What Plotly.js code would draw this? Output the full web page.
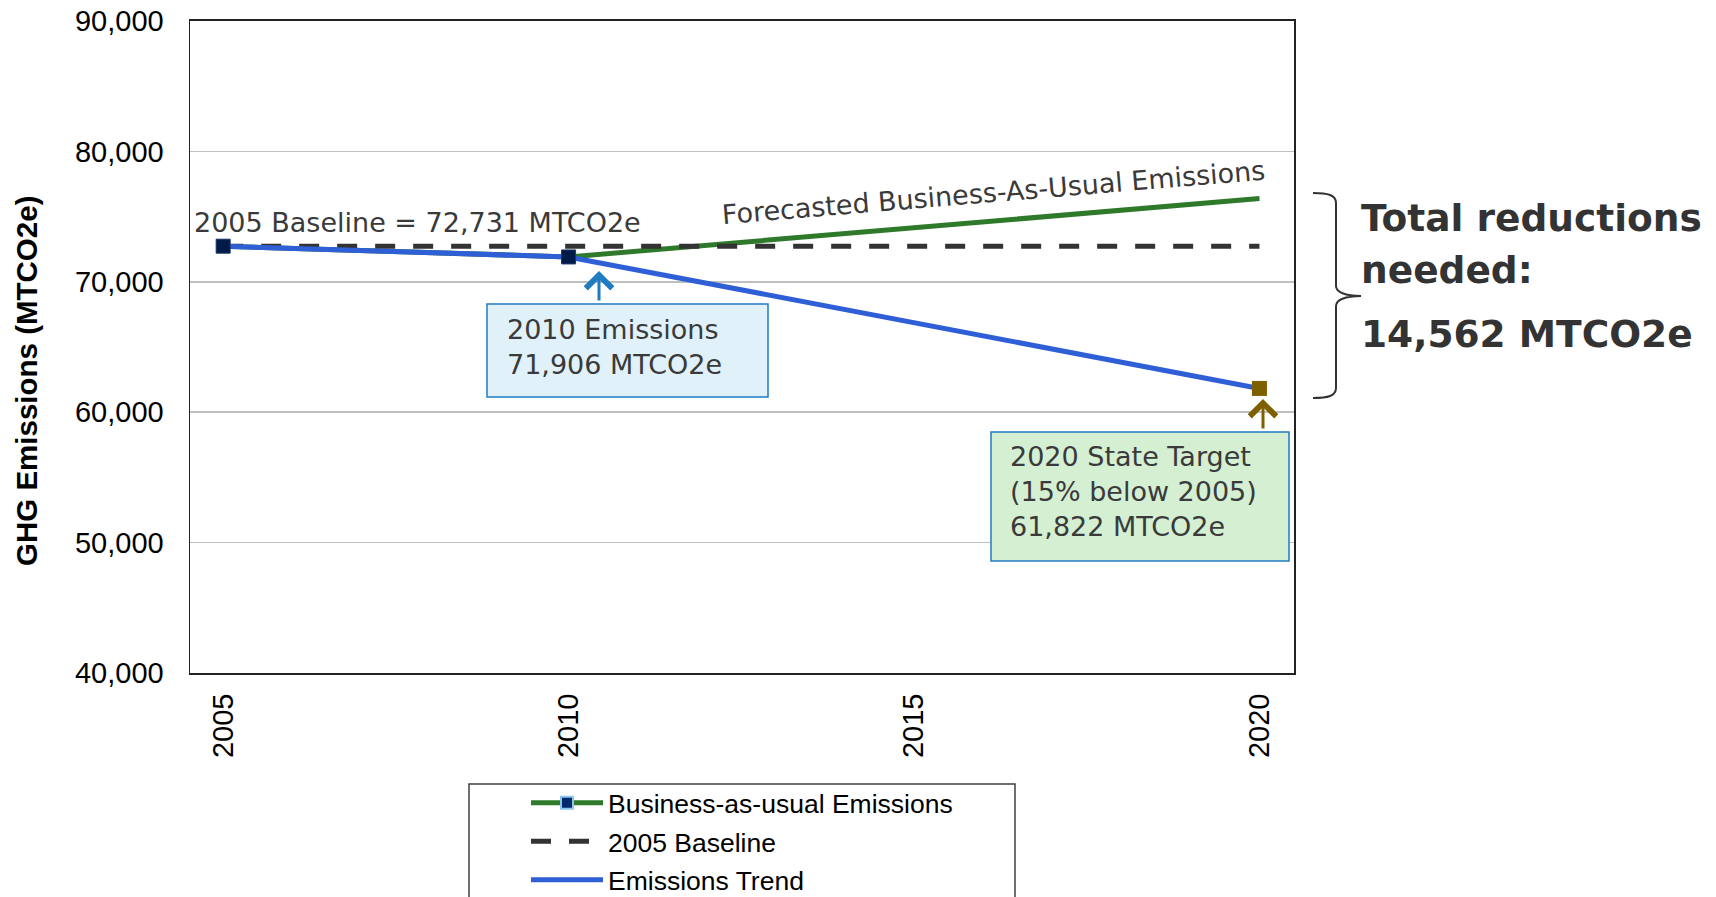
<!DOCTYPE html>
<html><head><meta charset="utf-8">
<script src="https://cdn.plot.ly/plotly-3.0.1.min.js"></script>
<style>html,body{margin:0;padding:0;background:#fff}#chart{width:1716px;height:897px}</style>
</head><body><div id="chart"></div>
<script>
// ---- data ----
const years = [2005, 2010, 2020];
const bauEmissions = [72731, 71906, 76384];
const trendEmissions = [72731, 71906, 61822];
const baselineYears = [2005, 2020];
const baselineValues = [72731, 72731];
const markerYears = [2005, 2010];
const markerValues = [72731, 71906];
const targetYears = [2020];
const targetValues = [61822];
const xTickVals = [2005, 2010, 2015, 2020];
const yTickVals = [40000, 50000, 60000, 70000, 80000, 90000];
const seriesNames = ['Business-as-usual Emissions', '2005 Baseline', 'Emissions Trend'];
const yAxisTitle = 'GHG Emissions (MTCO2e)';

// ---- pixel -> paper helpers (layout) ----
const W = 1716, H = 897, L = 190, R = 1294, T = 21, B = 673;
const px = x => (x - L) / (R - L);
const py = y => (B - y) / (B - T);
function pathFrom(cmds) {
  return cmds.map(c => c[0] + c.slice(1).map((v, i) => (i % 2 === 0 ? px(v) : py(v)).toFixed(5)).join(',')).join(' ');
}

const sans = 'Liberation Sans, Arial, sans-serif';
const verd = 'DejaVu Sans, Verdana, sans-serif';
const txt = '#3a3a3a';

const traces = [
  { x: years, y: bauEmissions, name: seriesNames[0], mode: 'lines+markers', legendgroup: 'a',
    line: { color: '#2e7a2a', width: 5 },
    marker: { symbol: 'square', size: 12,
      color: ['#002a6a', '#002a6a', 'rgba(0,0,0,0)'],
      line: { color: ['#8cc6ee', '#8cc6ee', 'rgba(0,0,0,0)'], width: 2 } } },
  { x: baselineYears, y: baselineValues, name: seriesNames[1], mode: 'lines', legendgroup: 'b',
    line: { color: '#333333', width: 5, dash: '20px,18px' } },
  { x: years, y: trendEmissions, name: seriesNames[2], mode: 'lines', legendgroup: 'c',
    line: { color: '#2f5fd6', width: 5 } },
  { x: markerYears, y: markerValues, mode: 'markers', showlegend: false, hoverinfo: 'skip',
    marker: { symbol: 'square', size: 14, color: '#001b48', line: { color: '#22386a', width: 1 } } },
  { x: targetYears, y: targetValues, mode: 'markers', showlegend: false,
    marker: { symbol: 'square', size: 15, color: '#7f6000' } }
];

const shapes = [
  { type: 'rect', xref: 'paper', yref: 'paper', x0: px(487), x1: px(768), y0: py(397), y1: py(304),
    fillcolor: '#e0f1fa', line: { color: '#1f7bc2', width: 1.5 }, layer: 'above' },
  { type: 'rect', xref: 'paper', yref: 'paper', x0: px(991), x1: px(1289), y0: py(561), y1: py(432),
    fillcolor: '#d5efd3', line: { color: '#1f7bc2', width: 1.5 }, layer: 'above' },
  { type: 'rect', xref: 'paper', yref: 'paper', x0: px(469), x1: px(1015), y0: py(905), y1: py(784),
    fillcolor: 'rgba(0,0,0,0)', line: { color: '#404040', width: 1.5 }, layer: 'above' },
  { type: 'path', xref: 'paper', yref: 'paper', layer: 'above', line: { color: '#333333', width: 2 },
    path: pathFrom([
      ['M', 1313, 193], ['C', 1328, 193, 1336, 195, 1336, 203], ['L', 1336, 286],
      ['C', 1336, 292, 1345, 296, 1361, 296], ['C', 1345, 296, 1336, 300, 1336, 306],
      ['L', 1336, 388], ['C', 1336, 396, 1328, 398, 1313, 398]]) }
];

const annotations = [
  { xref: 'paper', yref: 'paper', x: px(27), y: py(381), xanchor: 'center', yanchor: 'middle', showarrow: false,
    textangle: -90, text: yAxisTitle, font: { family: sans, size: 29.5, color: '#000', weight: 'bold' } },
  { xref: 'paper', yref: 'paper', x: px(192), y: py(222), xanchor: 'left', yanchor: 'middle', showarrow: false,
    text: '2005 Baseline = 72,731 MTCO2e', font: { family: verd, size: 27, color: txt } },
  { xref: 'paper', yref: 'paper', x: px(993), y: py(192), xanchor: 'center', yanchor: 'middle', showarrow: false,
    textangle: -4.7, text: 'Forecasted Business-As-Usual Emissions', font: { family: verd, size: 27, color: txt } },
  { xref: 'paper', yref: 'paper', x: px(505), y: py(347.5), xanchor: 'left', yanchor: 'middle', showarrow: false,
    align: 'left', text: '2010 Emissions<br>71,906 MTCO2e', font: { family: verd, size: 27, color: txt } },
  { xref: 'paper', yref: 'paper', x: px(1008), y: py(492), xanchor: 'left', yanchor: 'middle', showarrow: false,
    align: 'left', text: '2020 State Target<br>(15% below 2005)<br>61,822 MTCO2e', font: { family: verd, size: 27, color: txt } },
  { xref: 'paper', yref: 'paper', x: px(599), y: py(271), text: '', showarrow: true, ax: 0, ay: 31,
    arrowhead: 4, arrowsize: 1.7, arrowwidth: 3, arrowcolor: '#1f7bc2' },
  { xref: 'paper', yref: 'paper', x: px(1263), y: py(399), text: '', showarrow: true, ax: 0, ay: 31,
    arrowhead: 4, arrowsize: 1.7, arrowwidth: 3, arrowcolor: '#7f6000' },
  { xref: 'paper', yref: 'paper', x: px(1359), y: py(218), xanchor: 'left', yanchor: 'middle', showarrow: false,
    text: 'Total reductions', font: { family: verd, size: 37.5, color: '#333333', weight: 'bold' } },
  { xref: 'paper', yref: 'paper', x: px(1359), y: py(270), xanchor: 'left', yanchor: 'middle', showarrow: false,
    text: 'needed:', font: { family: verd, size: 37.5, color: '#333333', weight: 'bold' } },
  { xref: 'paper', yref: 'paper', x: px(1359), y: py(334), xanchor: 'left', yanchor: 'middle', showarrow: false,
    text: '14,562 MTCO2e', font: { family: verd, size: 37.5, color: '#333333', weight: 'bold' } }
];

const layout = {
  width: W, height: H,
  margin: { l: L, r: W - R, t: T, b: H - B, autoexpand: false },
  paper_bgcolor: '#ffffff', plot_bgcolor: '#ffffff',
  showlegend: true,
  xaxis: {
    range: [2004.52, 2020.5], tickvals: xTickVals, tickformat: 'd', tickangle: -90,
    tickfont: { family: sans, size: 29, color: '#000' }, ticks: '', ticklabelstandoff: 7,
    showgrid: false, zeroline: false, showline: true, linecolor: '#222', linewidth: 2, mirror: true
  },
  yaxis: {
    range: [40000, 90000], tickvals: yTickVals, tickformat: ',',
    tickfont: { family: sans, size: 29, color: '#000' }, ticks: '', ticklabelstandoff: 19,
    showgrid: true, gridcolor: '#bfbfbf', gridwidth: 1.5, zeroline: false,
    showline: true, linecolor: '#222', linewidth: 1.5, mirror: true
  },
  legend: {
    x: px(526), y: py(779), xanchor: 'left', yanchor: 'top',
    bgcolor: 'rgba(0,0,0,0)', borderwidth: 0, itemwidth: 72, tracegroupgap: 1,
    font: { family: sans, size: 26.5, color: '#000' }
  },
  shapes: shapes,
  annotations: annotations
};

Plotly.newPlot('chart', traces, layout, { displayModeBar: false, staticPlot: true });
</script>
</body></html>
